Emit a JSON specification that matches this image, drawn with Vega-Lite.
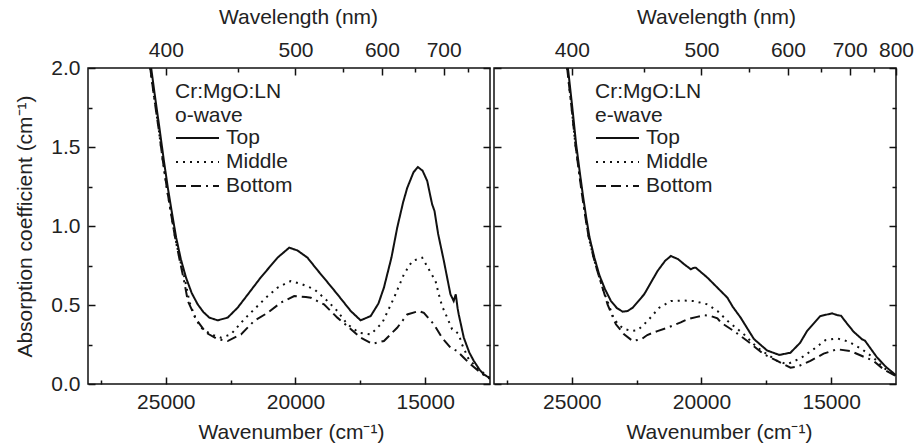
{
  "$schema": "https://vega.github.io/schema/vega-lite/v6.json",
  "padding": {"left": 14, "top": 5, "right": 2, "bottom": 0},
  "background": "white",
  "config": {
    "font": "Liberation Sans",
    "view": {"stroke": "#111", "strokeWidth": 1.5},
    "axis": {
      "domain": false, "ticks": true, "tickColor": "#111", "tickWidth": 1.5,
      "labelFont": "Liberation Sans", "labelFontSize": 21, "labelColor": "#222",
      "titleFont": "Liberation Sans", "titleFontSize": 21, "titleFontWeight": "normal", "titleColor": "#222",
      "grid": false, "labelOverlap": false, "labelFlush": false
    }
  },
  "datasets": {
    "spectra": [
      {"p":"o","s":"Top","wn":25565,"v":2.0},{"p":"o","s":"Top","wn":25400,"v":1.80},{"p":"o","s":"Top","wn":25245,"v":1.62},{"p":"o","s":"Top","wn":25080,"v":1.42},{"p":"o","s":"Top","wn":24920,"v":1.24},{"p":"o","s":"Top","wn":24760,"v":1.08},{"p":"o","s":"Top","wn":24600,"v":0.926},{"p":"o","s":"Top","wn":24420,"v":0.79},{"p":"o","s":"Top","wn":24220,"v":0.673},{"p":"o","s":"Top","wn":24000,"v":0.575},{"p":"o","s":"Top","wn":23770,"v":0.504},{"p":"o","s":"Top","wn":23550,"v":0.455},{"p":"o","s":"Top","wn":23320,"v":0.42},{"p":"o","s":"Top","wn":23000,"v":0.403},{"p":"o","s":"Top","wn":22615,"v":0.42},{"p":"o","s":"Top","wn":22230,"v":0.483},{"p":"o","s":"Top","wn":21800,"v":0.575},{"p":"o","s":"Top","wn":21345,"v":0.673},{"p":"o","s":"Top","wn":20690,"v":0.80},{"p":"o","s":"Top","wn":20240,"v":0.863},{"p":"o","s":"Top","wn":19923,"v":0.845},{"p":"o","s":"Top","wn":19540,"v":0.80},{"p":"o","s":"Top","wn":19150,"v":0.72},{"p":"o","s":"Top","wn":18770,"v":0.645},{"p":"o","s":"Top","wn":18385,"v":0.568},{"p":"o","s":"Top","wn":17870,"v":0.462},{"p":"o","s":"Top","wn":17490,"v":0.403},{"p":"o","s":"Top","wn":17100,"v":0.43},{"p":"o","s":"Top","wn":16800,"v":0.51},{"p":"o","s":"Top","wn":16590,"v":0.61},{"p":"o","s":"Top","wn":16300,"v":0.80},{"p":"o","s":"Top","wn":16077,"v":0.99},{"p":"o","s":"Top","wn":15850,"v":1.15},{"p":"o","s":"Top","wn":15690,"v":1.242},{"p":"o","s":"Top","wn":15450,"v":1.34},{"p":"o","s":"Top","wn":15280,"v":1.373},{"p":"o","s":"Top","wn":15100,"v":1.35},{"p":"o","s":"Top","wn":14920,"v":1.285},{"p":"o","s":"Top","wn":14800,"v":1.19},{"p":"o","s":"Top","wn":14730,"v":1.137},{"p":"o","s":"Top","wn":14640,"v":1.095},{"p":"o","s":"Top","wn":14500,"v":0.95},{"p":"o","s":"Top","wn":14280,"v":0.78},{"p":"o","s":"Top","wn":14100,"v":0.63},{"p":"o","s":"Top","wn":14025,"v":0.568},{"p":"o","s":"Top","wn":13900,"v":0.525},{"p":"o","s":"Top","wn":13820,"v":0.568},{"p":"o","s":"Top","wn":13750,"v":0.48},{"p":"o","s":"Top","wn":13705,"v":0.44},{"p":"o","s":"Top","wn":13510,"v":0.293},{"p":"o","s":"Top","wn":13300,"v":0.20},{"p":"o","s":"Top","wn":13125,"v":0.146},{"p":"o","s":"Top","wn":12900,"v":0.09},{"p":"o","s":"Top","wn":12740,"v":0.061},{"p":"o","s":"Top","wn":12500,"v":0.036},

      {"p":"o","s":"Middle","wn":25600,"v":2.0},{"p":"o","s":"Middle","wn":25440,"v":1.80},{"p":"o","s":"Middle","wn":25280,"v":1.62},{"p":"o","s":"Middle","wn":25120,"v":1.42},{"p":"o","s":"Middle","wn":24960,"v":1.24},{"p":"o","s":"Middle","wn":24800,"v":1.08},{"p":"o","s":"Middle","wn":24640,"v":0.926},{"p":"o","s":"Middle","wn":24460,"v":0.79},{"p":"o","s":"Middle","wn":24260,"v":0.66},{"p":"o","s":"Middle","wn":24090,"v":0.52},{"p":"o","s":"Middle","wn":23870,"v":0.42},{"p":"o","s":"Middle","wn":23640,"v":0.356},{"p":"o","s":"Middle","wn":23260,"v":0.314},{"p":"o","s":"Middle","wn":22870,"v":0.293},{"p":"o","s":"Middle","wn":22490,"v":0.314},{"p":"o","s":"Middle","wn":21975,"v":0.41},{"p":"o","s":"Middle","wn":21590,"v":0.473},{"p":"o","s":"Middle","wn":21140,"v":0.546},{"p":"o","s":"Middle","wn":20690,"v":0.61},{"p":"o","s":"Middle","wn":20180,"v":0.652},{"p":"o","s":"Middle","wn":19730,"v":0.63},{"p":"o","s":"Middle","wn":19280,"v":0.60},{"p":"o","s":"Middle","wn":18835,"v":0.536},{"p":"o","s":"Middle","wn":18385,"v":0.462},{"p":"o","s":"Middle","wn":18000,"v":0.378},{"p":"o","s":"Middle","wn":17550,"v":0.325},{"p":"o","s":"Middle","wn":17100,"v":0.314},{"p":"o","s":"Middle","wn":16650,"v":0.388},{"p":"o","s":"Middle","wn":16200,"v":0.546},{"p":"o","s":"Middle","wn":15820,"v":0.694},{"p":"o","s":"Middle","wn":15500,"v":0.778},{"p":"o","s":"Middle","wn":15115,"v":0.80},{"p":"o","s":"Middle","wn":14860,"v":0.726},{"p":"o","s":"Middle","wn":14600,"v":0.652},{"p":"o","s":"Middle","wn":14475,"v":0.568},{"p":"o","s":"Middle","wn":14350,"v":0.494},{"p":"o","s":"Middle","wn":14150,"v":0.42},{"p":"o","s":"Middle","wn":13960,"v":0.346},{"p":"o","s":"Middle","wn":13800,"v":0.33},{"p":"o","s":"Middle","wn":13705,"v":0.314},{"p":"o","s":"Middle","wn":13580,"v":0.251},{"p":"o","s":"Middle","wn":13320,"v":0.156},{"p":"o","s":"Middle","wn":12935,"v":0.093},{"p":"o","s":"Middle","wn":12550,"v":0.044},{"p":"o","s":"Middle","wn":12500,"v":0.04},

      {"p":"o","s":"Bottom","wn":25600,"v":2.0},{"p":"o","s":"Bottom","wn":25440,"v":1.80},{"p":"o","s":"Bottom","wn":25280,"v":1.62},{"p":"o","s":"Bottom","wn":25120,"v":1.42},{"p":"o","s":"Bottom","wn":24960,"v":1.24},{"p":"o","s":"Bottom","wn":24800,"v":1.08},{"p":"o","s":"Bottom","wn":24640,"v":0.926},{"p":"o","s":"Bottom","wn":24460,"v":0.78},{"p":"o","s":"Bottom","wn":24280,"v":0.64},{"p":"o","s":"Bottom","wn":24150,"v":0.525},{"p":"o","s":"Bottom","wn":23830,"v":0.41},{"p":"o","s":"Bottom","wn":23450,"v":0.325},{"p":"o","s":"Bottom","wn":23000,"v":0.283},{"p":"o","s":"Bottom","wn":22615,"v":0.272},{"p":"o","s":"Bottom","wn":22100,"v":0.314},{"p":"o","s":"Bottom","wn":21590,"v":0.40},{"p":"o","s":"Bottom","wn":21080,"v":0.45},{"p":"o","s":"Bottom","wn":20565,"v":0.515},{"p":"o","s":"Bottom","wn":20050,"v":0.557},{"p":"o","s":"Bottom","wn":19600,"v":0.55},{"p":"o","s":"Bottom","wn":19410,"v":0.546},{"p":"o","s":"Bottom","wn":18900,"v":0.504},{"p":"o","s":"Bottom","wn":18385,"v":0.42},{"p":"o","s":"Bottom","wn":18000,"v":0.367},{"p":"o","s":"Bottom","wn":17490,"v":0.293},{"p":"o","s":"Bottom","wn":17040,"v":0.255},{"p":"o","s":"Bottom","wn":16590,"v":0.272},{"p":"o","s":"Bottom","wn":16080,"v":0.356},{"p":"o","s":"Bottom","wn":15690,"v":0.44},{"p":"o","s":"Bottom","wn":15245,"v":0.462},{"p":"o","s":"Bottom","wn":15050,"v":0.45},{"p":"o","s":"Bottom","wn":14665,"v":0.378},{"p":"o","s":"Bottom","wn":14350,"v":0.293},{"p":"o","s":"Bottom","wn":14025,"v":0.23},{"p":"o","s":"Bottom","wn":13770,"v":0.209},{"p":"o","s":"Bottom","wn":13510,"v":0.166},{"p":"o","s":"Bottom","wn":13255,"v":0.125},{"p":"o","s":"Bottom","wn":12935,"v":0.082},{"p":"o","s":"Bottom","wn":12615,"v":0.04},{"p":"o","s":"Bottom","wn":12500,"v":0.035},

      {"p":"e","s":"Top","wn":25150,"v":2.0},{"p":"e","s":"Top","wn":24980,"v":1.75},{"p":"e","s":"Top","wn":24835,"v":1.52},{"p":"e","s":"Top","wn":24700,"v":1.35},{"p":"e","s":"Top","wn":24577,"v":1.20},{"p":"e","s":"Top","wn":24450,"v":1.06},{"p":"e","s":"Top","wn":24320,"v":0.93},{"p":"e","s":"Top","wn":24130,"v":0.80},{"p":"e","s":"Top","wn":23940,"v":0.69},{"p":"e","s":"Top","wn":23720,"v":0.60},{"p":"e","s":"Top","wn":23490,"v":0.525},{"p":"e","s":"Top","wn":23260,"v":0.48},{"p":"e","s":"Top","wn":23040,"v":0.458},{"p":"e","s":"Top","wn":22850,"v":0.462},{"p":"e","s":"Top","wn":22650,"v":0.483},{"p":"e","s":"Top","wn":22208,"v":0.568},{"p":"e","s":"Top","wn":21695,"v":0.715},{"p":"e","s":"Top","wn":21400,"v":0.78},{"p":"e","s":"Top","wn":21180,"v":0.81},{"p":"e","s":"Top","wn":20900,"v":0.79},{"p":"e","s":"Top","wn":20670,"v":0.758},{"p":"e","s":"Top","wn":20410,"v":0.726},{"p":"e","s":"Top","wn":20300,"v":0.735},{"p":"e","s":"Top","wn":20220,"v":0.736},{"p":"e","s":"Top","wn":19770,"v":0.673},{"p":"e","s":"Top","wn":19260,"v":0.589},{"p":"e","s":"Top","wn":19000,"v":0.546},{"p":"e","s":"Top","wn":18800,"v":0.49},{"p":"e","s":"Top","wn":18490,"v":0.42},{"p":"e","s":"Top","wn":17980,"v":0.285},{"p":"e","s":"Top","wn":17470,"v":0.212},{"p":"e","s":"Top","wn":17000,"v":0.184},{"p":"e","s":"Top","wn":16570,"v":0.198},{"p":"e","s":"Top","wn":16200,"v":0.26},{"p":"e","s":"Top","wn":15930,"v":0.335},{"p":"e","s":"Top","wn":15420,"v":0.43},{"p":"e","s":"Top","wn":14965,"v":0.447},{"p":"e","s":"Top","wn":14750,"v":0.435},{"p":"e","s":"Top","wn":14620,"v":0.432},{"p":"e","s":"Top","wn":14400,"v":0.385},{"p":"e","s":"Top","wn":14130,"v":0.33},{"p":"e","s":"Top","wn":13810,"v":0.283},{"p":"e","s":"Top","wn":13700,"v":0.275},{"p":"e","s":"Top","wn":13240,"v":0.17},{"p":"e","s":"Top","wn":12900,"v":0.11},{"p":"e","s":"Top","wn":12500,"v":0.055},

      {"p":"e","s":"Middle","wn":25180,"v":2.0},{"p":"e","s":"Middle","wn":25010,"v":1.75},{"p":"e","s":"Middle","wn":24865,"v":1.52},{"p":"e","s":"Middle","wn":24730,"v":1.35},{"p":"e","s":"Middle","wn":24607,"v":1.20},{"p":"e","s":"Middle","wn":24480,"v":1.06},{"p":"e","s":"Middle","wn":24350,"v":0.93},{"p":"e","s":"Middle","wn":24160,"v":0.80},{"p":"e","s":"Middle","wn":23970,"v":0.69},{"p":"e","s":"Middle","wn":23780,"v":0.59},{"p":"e","s":"Middle","wn":23615,"v":0.52},{"p":"e","s":"Middle","wn":23420,"v":0.43},{"p":"e","s":"Middle","wn":23230,"v":0.38},{"p":"e","s":"Middle","wn":23000,"v":0.35},{"p":"e","s":"Middle","wn":22700,"v":0.335},{"p":"e","s":"Middle","wn":22460,"v":0.34},{"p":"e","s":"Middle","wn":22075,"v":0.40},{"p":"e","s":"Middle","wn":21630,"v":0.483},{"p":"e","s":"Middle","wn":21180,"v":0.525},{"p":"e","s":"Middle","wn":20670,"v":0.528},{"p":"e","s":"Middle","wn":20285,"v":0.525},{"p":"e","s":"Middle","wn":19770,"v":0.504},{"p":"e","s":"Middle","wn":19385,"v":0.462},{"p":"e","s":"Middle","wn":19000,"v":0.40},{"p":"e","s":"Middle","wn":18360,"v":0.314},{"p":"e","s":"Middle","wn":17850,"v":0.23},{"p":"e","s":"Middle","wn":17080,"v":0.146},{"p":"e","s":"Middle","wn":16700,"v":0.125},{"p":"e","s":"Middle","wn":16180,"v":0.163},{"p":"e","s":"Middle","wn":15735,"v":0.213},{"p":"e","s":"Middle","wn":15225,"v":0.277},{"p":"e","s":"Middle","wn":14775,"v":0.289},{"p":"e","s":"Middle","wn":14330,"v":0.268},{"p":"e","s":"Middle","wn":13810,"v":0.22},{"p":"e","s":"Middle","wn":13365,"v":0.166},{"p":"e","s":"Middle","wn":12980,"v":0.103},{"p":"e","s":"Middle","wn":12500,"v":0.05},

      {"p":"e","s":"Bottom","wn":25180,"v":2.0},{"p":"e","s":"Bottom","wn":25010,"v":1.75},{"p":"e","s":"Bottom","wn":24865,"v":1.52},{"p":"e","s":"Bottom","wn":24730,"v":1.35},{"p":"e","s":"Bottom","wn":24607,"v":1.20},{"p":"e","s":"Bottom","wn":24480,"v":1.06},{"p":"e","s":"Bottom","wn":24350,"v":0.93},{"p":"e","s":"Bottom","wn":24160,"v":0.80},{"p":"e","s":"Bottom","wn":23970,"v":0.69},{"p":"e","s":"Bottom","wn":23780,"v":0.59},{"p":"e","s":"Bottom","wn":23615,"v":0.50},{"p":"e","s":"Bottom","wn":23300,"v":0.378},{"p":"e","s":"Bottom","wn":22985,"v":0.314},{"p":"e","s":"Bottom","wn":22650,"v":0.272},{"p":"e","s":"Bottom","wn":22300,"v":0.285},{"p":"e","s":"Bottom","wn":22090,"v":0.31},{"p":"e","s":"Bottom","wn":21700,"v":0.335},{"p":"e","s":"Bottom","wn":21310,"v":0.356},{"p":"e","s":"Bottom","wn":20800,"v":0.39},{"p":"e","s":"Bottom","wn":20540,"v":0.41},{"p":"e","s":"Bottom","wn":20165,"v":0.425},{"p":"e","s":"Bottom","wn":19900,"v":0.435},{"p":"e","s":"Bottom","wn":19640,"v":0.43},{"p":"e","s":"Bottom","wn":19385,"v":0.415},{"p":"e","s":"Bottom","wn":19260,"v":0.39},{"p":"e","s":"Bottom","wn":18750,"v":0.335},{"p":"e","s":"Bottom","wn":18230,"v":0.272},{"p":"e","s":"Bottom","wn":17590,"v":0.188},{"p":"e","s":"Bottom","wn":17080,"v":0.146},{"p":"e","s":"Bottom","wn":16565,"v":0.103},{"p":"e","s":"Bottom","wn":16300,"v":0.11},{"p":"e","s":"Bottom","wn":15800,"v":0.146},{"p":"e","s":"Bottom","wn":15290,"v":0.192},{"p":"e","s":"Bottom","wn":14775,"v":0.22},{"p":"e","s":"Bottom","wn":14260,"v":0.209},{"p":"e","s":"Bottom","wn":13810,"v":0.177},{"p":"e","s":"Bottom","wn":13365,"v":0.146},{"p":"e","s":"Bottom","wn":12980,"v":0.093},{"p":"e","s":"Bottom","wn":12500,"v":0.05}
    ]
  },
  "spacing": 0,
  "resolve": {"scale": {"strokeDash": "independent"}, "legend": {"strokeDash": "independent"}},
  "hconcat": [
    {
      "width": 402, "height": 316,
      "data": {"name": "spectra"},
      "transform": [{"filter": "datum.p == 'o'"}],
      "layer": [
        {
          "mark": {"type": "line", "strokeWidth": 2, "color": "#111", "clip": true},
          "encoding": {
            "x": {"field": "wn", "type": "quantitative",
              "scale": {"domain": [12500, 28000], "reverse": true, "nice": false, "zero": false},
              "axis": {"orient": "bottom", "title": "Wavenumber (cm⁻¹)", "titleX": 203,
                "values": [25000, 20000, 15000], "format": "d",
                "tickSize": -7, "labelPadding": 14, "titlePadding": 9}},
            "y": {"field": "v", "type": "quantitative",
              "scale": {"domain": [0, 2], "nice": false, "zero": false},
              "axis": {"orient": "left", "title": "Absorption coefficient (cm⁻¹)",
                "values": [0, 0.5, 1, 1.5, 2], "format": ".1f",
                "tickSize": -7, "labelPadding": 15, "titlePadding": 15}},
            "strokeDash": {"field": "s", "type": "nominal",
              "scale": {"domain": ["Top", "Middle", "Bottom"], "range": [[1, 0], [2, 5], [10, 5, 10, 5, 2, 5]]},
              "legend": {"orient": "none", "legendX": 87, "legendY": 13, "padding": 0,
                "title": ["Cr:MgO:LN", "o-wave"], "titleFontSize": 21, "titleFontWeight": "normal", "titleColor": "#222", "titleLineHeight": 24, "titlePadding": 0,
                "symbolType": "stroke", "symbolSize": 1849, "symbolStrokeWidth": 2, "symbolStrokeColor": "#111",
                "clipHeight": 24, "rowPadding": 0, "labelFontSize": 21, "labelColor": "#222", "labelOffset": 6}}
          }
        },
        {
          "mark": {"type": "line", "strokeOpacity": 0},
          "encoding": {
            "x": {"field": "wn", "type": "quantitative",
              "axis": {"orient": "top", "title": "Wavelength (nm)", "titleX": 210,
                "values": [25000, 20000, 16666.67, 14285.71],
                "labelExpr": "format(round(1e7/datum.value), 'd')",
                "tickSize": -7, "labelPadding": 15, "titlePadding": 12}},
            "y": {"field": "v", "type": "quantitative",
              "axis": {"orient": "right", "title": null, "labels": false,
                "values": [0, 0.5, 1, 1.5, 2], "tickSize": -7}},
            "detail": {"field": "s"}
          }
        },
        {
          "mark": {"type": "line", "strokeOpacity": 0},
          "encoding": {
            "x": {"field": "wn", "type": "quantitative",
              "axis": {"orient": "bottom", "title": null, "labels": false,
                "values": [27500, 22500, 17500], "tickSize": -4}},
            "y": {"field": "v", "type": "quantitative",
              "axis": {"orient": "left", "title": null, "labels": false,
                "values": [0.25, 0.75, 1.25, 1.75], "tickSize": -4}},
            "detail": {"field": "s"}
          }
        },
        {
          "mark": {"type": "line", "strokeOpacity": 0},
          "encoding": {
            "x": {"field": "wn", "type": "quantitative",
              "axis": {"orient": "top", "title": null, "labels": false,
                "values": [22222.22, 18181.82, 15384.62, 13333.33], "tickSize": -4}},
            "y": {"field": "v", "type": "quantitative",
              "axis": {"orient": "right", "title": null, "labels": false,
                "values": [0.25, 0.75, 1.25, 1.75], "tickSize": -4}},
            "detail": {"field": "s"}
          }
        }
      ],
      "resolve": {"axis": {"x": "independent", "y": "independent"}}
    },
    {
      "width": 402, "height": 316,
      "data": {"name": "spectra"},
      "transform": [{"filter": "datum.p == 'e'"}],
      "layer": [
        {
          "mark": {"type": "line", "strokeWidth": 2, "color": "#111", "clip": true},
          "encoding": {
            "x": {"field": "wn", "type": "quantitative",
              "scale": {"domain": [12500, 28000], "reverse": true, "nice": false, "zero": false},
              "axis": {"orient": "bottom", "title": "Wavenumber (cm⁻¹)", "titleX": 225,
                "values": [25000, 20000, 15000], "format": "d",
                "tickSize": -7, "labelPadding": 14, "titlePadding": 9}},
            "y": {"field": "v", "type": "quantitative",
              "scale": {"domain": [0, 2], "nice": false, "zero": false},
              "axis": {"orient": "left", "title": null, "labels": false,
                "values": [0, 0.5, 1, 1.5, 2], "tickSize": -7}},
            "strokeDash": {"field": "s", "type": "nominal",
              "scale": {"domain": ["Top", "Middle", "Bottom"], "range": [[1, 0], [2, 5], [10, 5, 10, 5, 2, 5]]},
              "legend": {"orient": "none", "legendX": 101, "legendY": 13, "padding": 0,
                "title": ["Cr:MgO:LN", "e-wave"], "titleFontSize": 21, "titleFontWeight": "normal", "titleColor": "#222", "titleLineHeight": 24, "titlePadding": 0,
                "symbolType": "stroke", "symbolSize": 1849, "symbolStrokeWidth": 2, "symbolStrokeColor": "#111",
                "clipHeight": 24, "rowPadding": 0, "labelFontSize": 21, "labelColor": "#222", "labelOffset": 6}}
          }
        },
        {
          "mark": {"type": "line", "strokeOpacity": 0},
          "encoding": {
            "x": {"field": "wn", "type": "quantitative",
              "axis": {"orient": "top", "title": "Wavelength (nm)", "titleX": 222,
                "values": [25000, 20000, 16666.67, 14285.71, 12500],
                "labelExpr": "format(round(1e7/datum.value), 'd')",
                "tickSize": -7, "labelPadding": 15, "titlePadding": 12}},
            "y": {"field": "v", "type": "quantitative",
              "axis": {"orient": "right", "title": null, "labels": false,
                "values": [0, 0.5, 1, 1.5, 2], "tickSize": -7}},
            "detail": {"field": "s"}
          }
        },
        {
          "mark": {"type": "line", "strokeOpacity": 0},
          "encoding": {
            "x": {"field": "wn", "type": "quantitative",
              "axis": {"orient": "bottom", "title": null, "labels": false,
                "values": [27500, 22500, 17500], "tickSize": -4}},
            "y": {"field": "v", "type": "quantitative",
              "axis": {"orient": "left", "title": null, "labels": false,
                "values": [0.25, 0.75, 1.25, 1.75], "tickSize": -4}},
            "detail": {"field": "s"}
          }
        },
        {
          "mark": {"type": "line", "strokeOpacity": 0},
          "encoding": {
            "x": {"field": "wn", "type": "quantitative",
              "axis": {"orient": "top", "title": null, "labels": false,
                "values": [22222.22, 18181.82, 15384.62, 13333.33], "tickSize": -4}},
            "y": {"field": "v", "type": "quantitative",
              "axis": {"orient": "right", "title": null, "labels": false,
                "values": [0.25, 0.75, 1.25, 1.75], "tickSize": -4}},
            "detail": {"field": "s"}
          }
        }
      ],
      "resolve": {"axis": {"x": "independent", "y": "independent"}}
    }
  ]
}
